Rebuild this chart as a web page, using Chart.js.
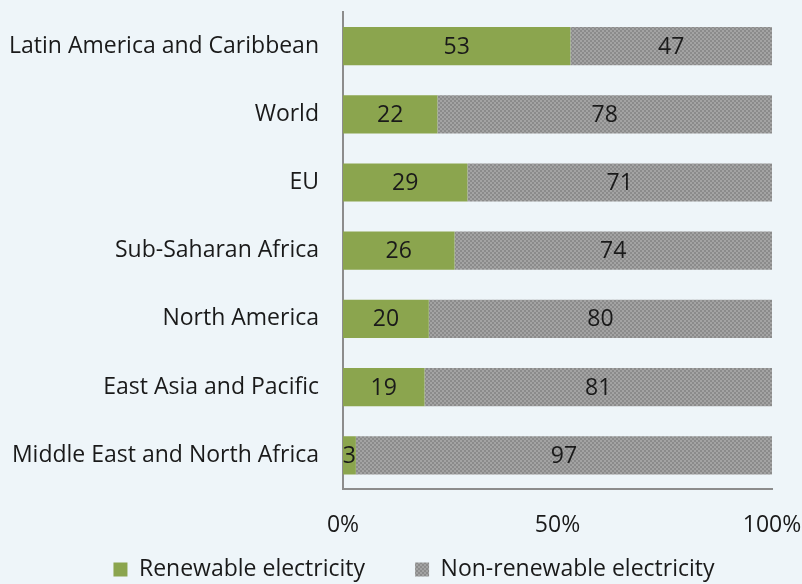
<!DOCTYPE html>
<html>
<head>
<meta charset="utf-8">
<script src="https://cdn.jsdelivr.net/npm/chart.js@4.4.1/dist/chart.umd.min.js"></script>
<style>
  html, body { margin: 0; padding: 0; background: #eef5f9; }
  #wrap { width: 802px; height: 584px; }
</style>
</head>
<body>
<div id="wrap"><canvas id="chart" width="802" height="584"></canvas></div>
<script>
// data
const regions = [
  'Latin America and Caribbean',
  'World',
  'EU',
  'Sub-Saharan Africa',
  'North America',
  'East Asia and Pacific',
  'Middle East and North Africa'
];
const renewable = [53, 22, 29, 26, 20, 19, 3];
const nonRenewable = [47, 78, 71, 74, 80, 81, 97];
const xTicks = [0, 50, 100];

const FONT = "'Open Sans', sans-serif";
const SIZE = 23;

// grey dotted fill, like the original
function makePattern() {
  const c = document.createElement('canvas');
  c.width = 4; c.height = 4;
  const g = c.getContext('2d');
  g.fillStyle = '#8b8b8b';
  g.fillRect(0, 0, 4, 4);
  g.fillStyle = '#a3a3a3';
  g.fillRect(0, 0, 2, 2);
  g.fillRect(2, 2, 2, 2);
  return g.createPattern(c, 'repeat');
}
const greyFill = makePattern();

// values written in the middle of each segment
const barLabels = {
  id: 'barLabels',
  afterDatasetsDraw(chart) {
    const ctx = chart.ctx;
    ctx.save();
    ctx.font = SIZE + 'px ' + FONT;
    ctx.fillStyle = '#1a1a1a';
    ctx.textAlign = 'center';
    ctx.textBaseline = 'middle';
    chart.data.datasets.forEach((ds, i) => {
      chart.getDatasetMeta(i).data.forEach((bar, j) => {
        const p = bar.getProps(['x', 'y', 'base'], true);
        ctx.fillText(ds.data[j], (p.x + p.base) / 2, p.y + 1);
      });
    });
    ctx.restore();
  }
};

// legend: a bit right of centre, tucked under the axis labels
const legendNudge = {
  id: 'legendNudge',
  afterLayout(chart) {
    const l = chart.legend;
    l.left += 25;
    l.right += 25;
    l.top = 508;
    l.height = 84;
    l.bottom = l.top + l.height;
  }
};

new Chart(document.getElementById('chart'), {
  type: 'bar',
  data: {
    labels: regions,
    datasets: [
      { label: 'Renewable electricity', data: renewable, backgroundColor: '#8ba54e' },
      { label: 'Non-renewable electricity', data: nonRenewable, backgroundColor: greyFill }
    ]
  },
  options: {
    indexAxis: 'y',
    responsive: false,
    animation: false,
    categoryPercentage: 1,
    barPercentage: 0.56,
    layout: { padding: { top: 12, right: 30, left: 6, bottom: 0 } },
    plugins: {
      legend: {
        position: 'bottom',
        maxHeight: 23,
        labels: {
          color: '#1a1a1a',
          font: { size: SIZE, family: FONT },
          boxWidth: 14,
          boxHeight: 14,
          padding: 50
        }
      },
      tooltip: { enabled: false }
    },
    scales: {
      x: {
        stacked: true,
        min: 0,
        max: 100,
        afterBuildTicks: (axis) => { axis.ticks = xTicks.map(v => ({ value: v })); },
        afterFit: (axis) => { axis.paddingLeft = 0; axis.paddingRight = 0; },
        grid: { display: false, drawTicks: false },
        border: { color: '#8c8c8c', width: 2 },
        ticks: {
          color: '#1a1a1a',
          font: { size: SIZE, family: FONT },
          padding: 22,
          callback: (v) => v + '%'
        }
      },
      y: {
        stacked: true,
        afterFit: (axis) => { axis.width = 337; axis.paddingTop = 0; axis.paddingBottom = 0; },
        grid: { display: false, drawTicks: false },
        border: { color: '#8c8c8c', width: 2 },
        ticks: {
          color: '#1a1a1a',
          font: { size: SIZE, family: FONT },
          padding: 24
        }
      }
    }
  },
  plugins: [barLabels, legendNudge]
});
</script>
</body>
</html>
